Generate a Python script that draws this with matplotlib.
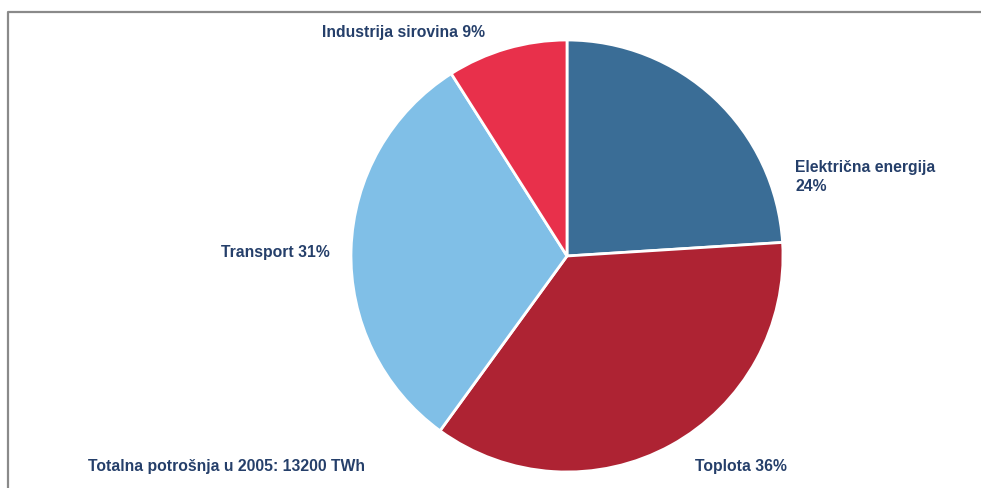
import matplotlib.pyplot as plt

# Energy consumption by sector
sectors = ['Električna energija', 'Toplota', 'Transport', 'Industrija sirovina']
shares = [24, 36, 31, 9]
colors = ['#3a6d96', '#ae2333', '#80bfe7', '#e8304b']
labels = ['Električna energija\n24%', 'Toplota 36%', 'Transport 31%', 'Industrija sirovina 9%']
total_note = 'Totalna potrošnja u 2005: 13200 TWh'

W, H = 981, 488
fig = plt.figure(figsize=(W / 100, H / 100), dpi=100)
ax = fig.add_axes([0, 0, 1, 1])
ax.set_xlim(0, W)
ax.set_ylim(0, H)
ax.set_aspect('equal')
ax.axis('off')

ax.pie(shares, colors=colors, startangle=90, counterclock=False,
       center=(567, H - 256), radius=216,
       wedgeprops=dict(edgecolor='white', linewidth=2))
ax.set_xlim(0, W)
ax.set_ylim(0, H)

# frame lines on the left and top
ax.plot([8, 8, W], [0, H - 12, H - 12], color='#8a8a8a', linewidth=1.6)

txt = dict(color='#253f6a', fontsize=11.3, fontweight='bold', family='Liberation Sans')
ax.text(795, H - 177, labels[0], ha='left', va='center', linespacing=1.3, **txt)
ax.text(695, H - 467, labels[1], ha='left', va='center', **txt)
ax.text(330, H - 253, labels[2], ha='right', va='center', **txt)
ax.text(404, H - 32, labels[3], ha='center', va='center', **txt)
ax.text(88, H - 467, total_note, ha='left', va='center', **txt)

fig.savefig('out.png', dpi=100, facecolor='white')
